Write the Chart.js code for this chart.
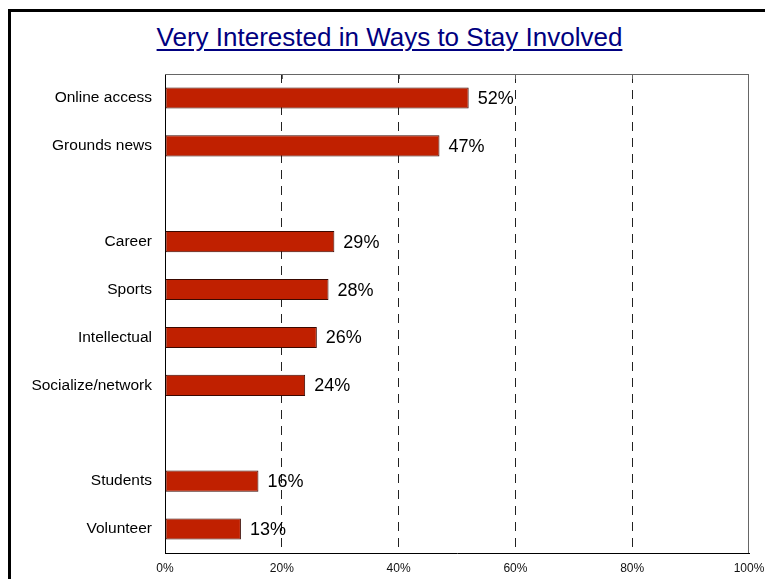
<!DOCTYPE html>
<html>
<head>
<meta charset="utf-8">
<title>Very Interested in Ways to Stay Involved</title>
<script src="https://cdn.jsdelivr.net/npm/chart.js@4/dist/chart.umd.min.js"></script>
<style>
    html, body { margin: 0; padding: 0; background: #fff; }
    #wrap { position: relative; width: 765px; height: 579px; overflow: hidden; }
    #frame {
        position: absolute; left: 8px; top: 9px; right: -10px; bottom: -10px;
        border-left: 3px solid #000; border-top: 3px solid #000;
    }
    #titulo {
        position: absolute; left: 14px; right: 0; top: 22px;
        text-align: center; font-family: "Liberation Sans", Arial, sans-serif;
        font-size: 26px; line-height: 30px; color: #000080; text-decoration: underline;
        text-underline-offset: 3px; text-decoration-thickness: 2px;
    }
    canvas { position: absolute; left: 0; top: 0; }
</style>
</head>
<body>
<div id="wrap">
    <div id="frame"></div>
    <div id="titulo">Very Interested in Ways to Stay Involved</div>
    <canvas id="grafico" width="765" height="579"></canvas>
</div>
<script>
    // Categorías (las vacías separan los grupos)
    const categorias = [
        "Online access", "Grounds news", "",
        "Career", "Sports", "Intellectual", "Socialize/network", "",
        "Students", "Volunteer"
    ];
    // Porcentaje "muy interesado"
    const valores = [52, 47, null, 29, 28, 26, 24, null, 16, 13];
    const ticksX = [0, 20, 40, 60, 80, 100];

    const fuente = "'Liberation Sans', Arial, sans-serif";

    // Marco del área de trazado: línea superior con marcas y borde derecho
    const marcoPlugin = {
        id: "marco",
        beforeDatasetsDraw(chart) {
            const { ctx, chartArea: a, scales } = chart;
            ctx.save();
            ctx.strokeStyle = "#666";
            ctx.lineWidth = 1;
            ctx.beginPath();
            ctx.moveTo(a.left, a.top + 0.5);
            ctx.lineTo(a.right, a.top + 0.5);
            ctx.moveTo(a.right - 0.5, a.top);
            ctx.lineTo(a.right - 0.5, a.bottom);
            ticksX.slice(1, -1).forEach(v => {
                const x = Math.round(scales.x.getPixelForValue(v)) + 0.5;
                ctx.moveTo(x, a.top);
                ctx.lineTo(x, a.top + 5);
            });
            ctx.stroke();
            ctx.restore();
        }
    };

    // Etiquetas de porcentaje al final de cada barra
    const etiquetasPlugin = {
        id: "etiquetas",
        afterDatasetsDraw(chart) {
            const { ctx } = chart;
            const meta = chart.getDatasetMeta(0);
            ctx.save();
            ctx.font = "18px " + fuente;
            ctx.fillStyle = "#000";
            ctx.textAlign = "left";
            ctx.textBaseline = "middle";
            meta.data.forEach((bar, i) => {
                if (valores[i] == null) return;
                ctx.fillText(valores[i] + "%", bar.x + 9, bar.y + 1);
            });
            ctx.restore();
        }
    };

    const ctx = document.getElementById("grafico").getContext("2d");
    new Chart(ctx, {
        type: "bar",
        data: {
            labels: categorias,
            datasets: [{
                data: valores,
                backgroundColor: "#C02000",
                borderColor: "#3A0800",
                borderWidth: 1,
                borderSkipped: false,
                categoryPercentage: 1,
                barPercentage: 0.44
            }]
        },
        options: {
            indexAxis: "y",
            responsive: false,
            animation: false,
            layout: { padding: { top: 74, right: 16, bottom: 0, left: 0 } },
            plugins: {
                legend: { display: false },
                tooltip: { enabled: false }
            },
            scales: {
                x: {
                    min: 0,
                    max: 100,
                    afterBuildTicks(scale) {
                        scale.ticks = ticksX.map(v => ({ value: v }));
                    },
                    afterFit(scale) {
                        scale.height = 26;
                        scale.paddingLeft = 0;
                        scale.paddingRight = 0;
                    },
                    grid: {
                        drawTicks: false,
                        color: c => (c.tick.value > 0 && c.tick.value < 100) ? "#222" : "rgba(0,0,0,0)",
                        lineWidth: 1
                    },
                    border: { display: true, color: "#000", width: 1, dash: [9, 7] },
                    ticks: {
                        padding: 8,
                        color: "#111",
                        maxRotation: 0,
                        font: { family: fuente, size: 12 },
                        callback: v => v + "%"
                    }
                },
                y: {
                    afterFit(scale) { scale.width = 165; },
                    border: { display: true, color: "#000", width: 1 },
                    grid: { display: false, drawTicks: false },
                    ticks: {
                        padding: 13,
                        color: "#000",
                        autoSkip: false,
                        font: { family: fuente, size: 15.5 }
                    }
                }
            }
        },
        plugins: [marcoPlugin, etiquetasPlugin]
    });
</script>
</body>
</html>
